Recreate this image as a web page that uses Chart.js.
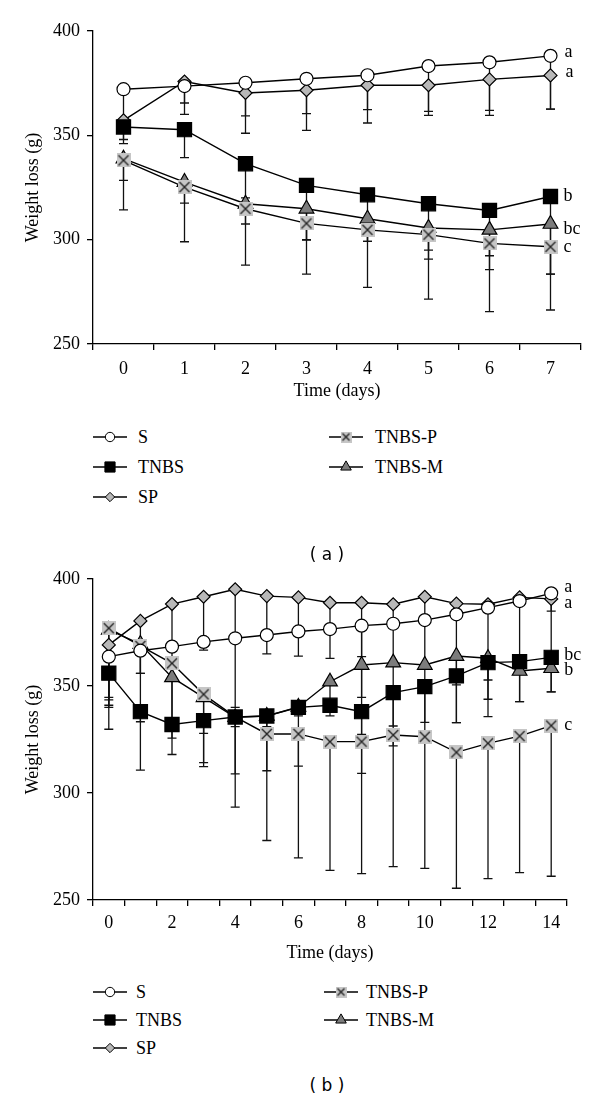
<!DOCTYPE html>
<html>
<head>
<meta charset="utf-8">
<script src="https://cdn.jsdelivr.net/npm/chart.js@4.4.0/dist/chart.umd.min.js"></script>
<style>
  body { margin: 0; background: #fff; }
  #page { position: relative; width: 600px; height: 1102px; overflow: hidden; font-family: 'Liberation Serif', serif; color: #000; }
  .box { position: absolute; left: 0; width: 600px; }
  .item { position: absolute; height: 24px; line-height: 24px; font-size: 18px; white-space: nowrap; }
  .item canvas { position: absolute; top: 5px; }
  .caption { position: absolute; left: 277px; width: 100px; text-align: center; font-family: 'DejaVu Sans', sans-serif; font-size: 17px; }
</style>
</head>
<body>
<div id="page">
  <div class="box" style="top:0;height:410px"><canvas id="chartA"></canvas></div>
  <div class="box" style="top:560px;height:410px"><canvas id="chartB"></canvas></div>
  <div id="legendA"></div>
  <div id="legendB"></div>
  <div class="caption" style="top:544px">( a )</div>
  <div class="caption" style="top:1075px">( b )</div>
</div>
<script>
// ---- data, panel (a): days 0-7 ----
const daysA = ['0', '1', '2', '3', '4', '5', '6', '7'];
const sA     = [372.1, 373.6, 375.2, 377.1, 378.8, 383.2, 385.0, 388.1];
const tnbsA  = [354.0, 352.7, 336.4, 326.0, 321.5, 317.2, 314.0, 320.7];
const spA    = [357.2, 375.8, 370.3, 371.6, 374.0, 374.0, 376.8, 378.7];
const tnbsPA = [338.0, 325.2, 314.8, 307.8, 304.7, 302.4, 298.2, 296.6];
const tnbsMA = [338.8, 327.6, 317.2, 314.8, 310.0, 305.6, 304.7, 307.5];
// lower end of each error bar
const sLowA     = [357, 365.5, 351, 352.4, 355.9, 359.6, 359.6, 362.6];
const tnbsLowA  = [346, 339.3, 320, 300, 299.2, 295, 292.3, 283.5];
const spLowA    = [348, 360, 359.3, 360.4, 362.3, 361.5, 362, 362.6];
const tnbsPLowA = [314.3, 299, 287.8, 283.5, 277.1, 271.5, 265.5, 266.3];
const tnbsMLowA = [328.4, 317.5, 307.5, 299.8, 299.2, 290.7, 285.6, 283.5];

// ---- data, panel (b): days 0-14 ----
const daysB = ['0', '1', '2', '3', '4', '5', '6', '7', '8', '9', '10', '11', '12', '13', '14'];
const sB     = [363.7, 366.5, 368.4, 370.6, 372.3, 373.8, 375.5, 376.6, 378.2, 379.1, 380.8, 383.5, 386.6, 389.7, 393.3];
const tnbsB  = [356.0, 338.0, 332.0, 333.8, 335.5, 336.0, 340.0, 341.0, 338.0, 346.9, 349.7, 354.7, 360.9, 361.4, 363.4];
const spB    = [369.2, 380.4, 388.3, 391.7, 395.2, 392.0, 391.4, 388.9, 388.9, 388.2, 391.7, 388.5, 388.2, 391.4, 390.7];
const tnbsPB = [377.0, 368.7, 360.6, 346.1, 335.6, 327.6, 327.6, 324.0, 324.0, 327.1, 326.3, 319.0, 323.2, 326.6, 331.5];
const tnbsMB = [376.2, 369.6, 354.0, 344.7, 335.4, 336.0, 340.2, 352.0, 359.8, 360.9, 359.8, 364.0, 363.0, 357.0, 358.3];
const sLowB     = [344.7, 355.9, 361, 366.8, 340, 365, 364, 362.9, 363.7, 361, 360, 350.5, 352.8, 361, 363];
const tnbsLowB  = [340, 333.3, 325.6, 327.9, 331, 331, 336, 336, 327.4, 331.3, 333, 332.9, 343.8, 342.7, 347.3];
const spLowB    = [343.5, 366.5, 368.4, 370.6, 372.3, 373.8, 375.5, 376.6, 309.2, 379.1, 380.8, 383.5, 386.6, 389.7, 385];
const tnbsPLowB = [341, 310.7, 318, 312.3, 293.4, 277.8, 269.7, 263.8, 262.3, 265.6, 264.8, 255.5, 260, 262.8, 261.1];
const tnbsMLowB = [329.8, 355.9, 330.2, 314.2, 308.9, 310.4, 312.6, 340, 344.7, 322, 326, 332.9, 335.7, 342.7, 347.3];

const seriesNames = ['S', 'TNBS', 'SP', 'TNBS-P', 'TNBS-M'];
const yTicks = [250, 300, 350, 400];
const groupsA = ['a', 'b', 'a', 'c', 'bc'];
const groupsB = ['a', 'bc', 'a', 'c', 'b'];

const SERIF = "'Liberation Serif', serif";
Chart.defaults.font.family = SERIF;
Chart.defaults.font.size = 18;
Chart.defaults.color = '#000';

// grey square with a cross on top, used for TNBS-P
function crossBox(size) {
  const c = document.createElement('canvas');
  c.width = size; c.height = size;
  const g = c.getContext('2d');
  g.fillStyle = '#c6c6c6';
  g.fillRect(0, 0, size, size);
  g.strokeStyle = '#222';
  g.lineWidth = 1.4;
  g.beginPath();
  g.moveTo(2, 2); g.lineTo(size - 2, size - 2);
  g.moveTo(size - 2, 2); g.lineTo(2, size - 2);
  g.stroke();
  return c;
}

const styles = [
  { pointStyle: 'circle', radius: 6.5, bg: '#fff' },
  { pointStyle: 'rect', radius: 10, bg: '#000' },
  { pointStyle: 'rectRot', radius: 6.5, bg: '#b8b8b8' },
  { pointStyle: crossBox(14), radius: 7, bg: '#c6c6c6' },
  { pointStyle: 'triangle', radius: 8.5, bg: '#7c7c7c' }
];

const errorBars = {
  id: 'errorBars',
  beforeDatasetsDraw(chart) {
    const ctx = chart.ctx, y = chart.scales.y;
    ctx.save();
    ctx.strokeStyle = '#111';
    ctx.lineWidth = 1.3;
    chart.data.datasets.forEach((ds, i) => {
      chart.getDatasetMeta(i).data.forEach((pt, j) => {
        const yl = y.getPixelForValue(ds.errLow[j]);
        ctx.beginPath();
        ctx.moveTo(pt.x, pt.y); ctx.lineTo(pt.x, yl);
        ctx.moveTo(pt.x - 4.5, yl); ctx.lineTo(pt.x + 4.5, yl);
        ctx.stroke();
      });
    });
    ctx.restore();
  }
};

const groupTags = {
  id: 'groupTags',
  afterDatasetsDraw(chart, args, opts) {
    const ctx = chart.ctx;
    ctx.save();
    ctx.font = '18px ' + SERIF;
    ctx.fillStyle = '#000';
    ctx.textBaseline = 'middle';
    chart.data.datasets.forEach((ds, i) => {
      const pts = chart.getDatasetMeta(i).data;
      const last = pts[pts.length - 1];
      const d = opts.offsets[i];
      ctx.fillText(ds.group, last.x + 13 + d[0], last.y + d[1]);
    });
    ctx.restore();
  }
};

function makeChart(id, labels, means, lows, groups, opt) {
  const datasets = means.map((m, i) => ({
    label: seriesNames[i],
    data: m,
    errLow: lows[i],
    group: groups[i],
    borderColor: '#000',
    borderWidth: 1.4,
    pointStyle: styles[i].pointStyle,
    pointRadius: styles[i].radius,
    pointHoverRadius: styles[i].radius,
    pointBackgroundColor: styles[i].bg,
    pointBorderColor: '#000',
    pointBorderWidth: 1.2,
    tension: 0
  }));
  return new Chart(document.getElementById(id), {
    type: 'line',
    data: { labels: labels, datasets: datasets },
    plugins: [errorBars, groupTags],
    options: {
      responsive: true,
      maintainAspectRatio: false,
      animation: false,
      events: [],
      layout: { padding: { top: opt.top, right: opt.right, left: 0, bottom: 0 } },
      plugins: {
        legend: { display: false },
        tooltip: { enabled: false },
        groupTags: { offsets: opt.tagOffsets }
      },
      scales: {
        x: {
          type: 'category',
          offset: true,
          afterFit: s => { s.height = opt.xHeight; },
          grid: { offset: true, drawOnChartArea: false, drawTicks: true, tickLength: 6, color: '#000', lineWidth: 1.3 },
          border: { color: '#000', width: 1.3 },
          ticks: {
            autoSkip: false, maxRotation: 0, padding: opt.xPad,
            callback: function (v, i) { return (opt.every === 1 || i % opt.every === 0) ? this.getLabelForValue(v) : ''; }
          },
          title: { display: true, text: 'Time (days)', padding: { top: 0, bottom: opt.titlePad } }
        },
        y: {
          min: 250, max: 400,
          afterFit: s => { s.width = 93; },
          afterBuildTicks: s => { s.ticks = yTicks.map(v => ({ value: v })); },
          grid: { drawOnChartArea: false, drawTicks: true, tickLength: 6, color: '#000', lineWidth: 1.3 },
          border: { color: '#000', width: 1.3 },
          ticks: { padding: 7 },
          title: { display: true, text: 'Weight loss (g)', padding: { top: 22, bottom: 0 } }
        }
      }
    }
  });
}

makeChart('chartA', daysA,
  [sA, tnbsA, spA, tnbsPA, tnbsMA],
  [sLowA, tnbsLowA, spLowA, tnbsPLowA, tnbsMLowA], groupsA,
  { top: 31, right: 19, xHeight: 66, xPad: 8, titlePad: 8, every: 1,
    tagOffsets: [[1, -4], [0, 0], [2, -3], [0, 1], [0, 5]] });

makeChart('chartB', daysB,
  [sB, tnbsB, spB, tnbsPB, tnbsMB],
  [sLowB, tnbsLowB, spLowB, tnbsPLowB, tnbsMLowB], groupsB,
  { top: 19, right: 33, xHeight: 70, xPad: 6, titlePad: 6, every: 2,
    tagOffsets: [[0, -6], [0, -2], [0, 4], [0, 0], [0, 2]] });

// legends: a line with the marker in the middle, then the name
function legend(hostId, cols, rows) {
  const host = document.getElementById(hostId);
  const place = [[0, 0], [0, 1], [0, 2], [1, 0], [1, 1]];
  seriesNames.forEach((name, i) => {
    const [c, r] = place[i];
    const item = document.createElement('div');
    item.className = 'item';
    item.style.left = cols[c][0] + 'px';
    item.style.top = (rows[r] - 12) + 'px';
    const cv = document.createElement('canvas');
    cv.width = 34; cv.height = 14;
    const g = cv.getContext('2d');
    g.strokeStyle = '#000'; g.lineWidth = 1.3;
    g.beginPath(); g.moveTo(0, 7); g.lineTo(34, 7); g.stroke();
    g.fillStyle = styles[i].bg; g.lineWidth = 1;
    const ps = i === 3 ? crossBox(11) : styles[i].pointStyle;
    Chart.helpers.drawPoint(g, { pointStyle: ps, radius: styles[i].radius * 0.72, borderWidth: 1, rotation: 0 }, 17, 7);
    item.appendChild(cv);
    const t = document.createElement('span');
    t.textContent = name;
    t.style.position = 'absolute';
    t.style.left = (cols[c][1] - cols[c][0]) + 'px';
    item.appendChild(t);
    host.appendChild(item);
  });
}
legend('legendA', [[93, 138], [329, 375]], [437, 467, 497]);
legend('legendB', [[93, 136], [324, 366]], [992, 1020, 1048]);
</script>
</body>
</html>
